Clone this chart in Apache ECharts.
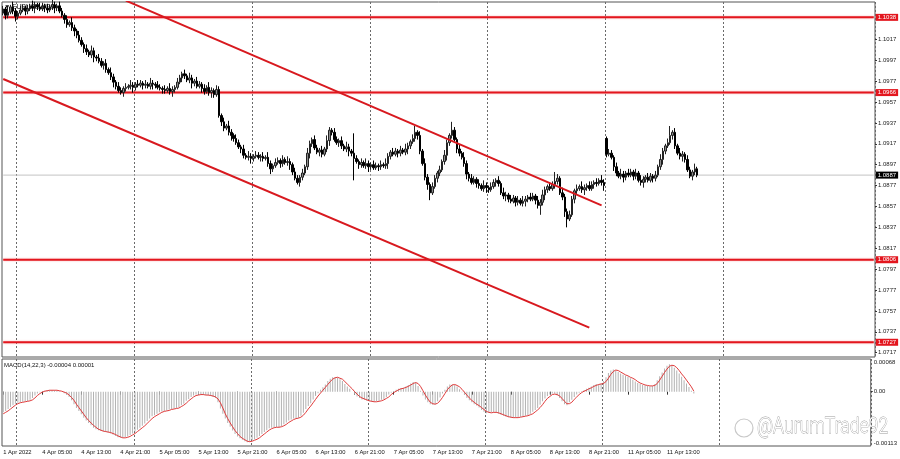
<!DOCTYPE html>
<html><head><meta charset="utf-8">
<script src="https://cdn.jsdelivr.net/npm/echarts@6/dist/echarts.min.js"></script>
<style>html,body{margin:0;padding:0;background:#fff}#c{width:900px;height:459px}</style>
</head><body><div id="c"></div>
<script>
// ---- Price data (EURUSD, 30-minute bars) ----
const opens = [
1.1042,1.1046,1.1040,1.1043,1.1048,1.1044,1.1039,1.1042,1.1045,1.1047,
1.1044,1.1046,1.1049,1.1047,1.1050,1.1048,1.1046,1.1049,1.1047,1.1045,
1.1048,1.1050,1.1047,1.1049,1.1044,1.1040,1.1036,1.1031,1.1033,1.1028,
1.1025,1.1021,1.1016,1.1012,1.1008,1.1005,1.1002,1.1006,1.1000,1.0999,
1.0996,1.0992,1.0994,1.0988,1.0985,1.0981,1.0976,1.0972,1.0968,1.0966,
1.0970,1.0971,1.0972,1.0973,1.0971,1.0974,1.0973,1.0975,1.0973,1.0974,
1.0972,1.0975,1.0974,1.0973,1.0971,1.0970,1.0969,1.0968,1.0970,1.0967,
1.0969,1.0971,1.0976,1.0980,1.0984,1.0982,1.0978,1.0980,1.0975,1.0977,
1.0972,1.0974,1.0970,1.0967,1.0971,1.0966,1.0968,1.0964,1.0969,1.0944,
1.0938,1.0932,1.0934,1.0928,1.0925,1.0922,1.0918,1.0914,1.0912,1.0906,
1.0904,1.0905,1.0903,1.0905,1.0906,1.0904,1.0905,1.0903,1.0904,1.0898,
1.0893,1.0896,1.0899,1.0901,1.0898,1.0902,1.0899,1.0900,1.0897,1.0890,
1.0884,1.0880,1.0885,1.0889,1.0895,1.0908,1.0917,1.0921,1.0913,1.0909,
1.0911,1.0907,1.0912,1.0920,1.0930,1.0928,1.0921,1.0918,1.0920,1.0915,
1.0912,1.0914,1.0910,1.0908,1.0903,1.0900,1.0897,1.0899,1.0896,1.0898,
1.0895,1.0897,1.0894,1.0896,1.0895,1.0897,1.0896,1.0898,1.0905,1.0909,
1.0907,1.0910,1.0908,1.0911,1.0909,1.0912,1.0915,1.0919,1.0922,1.0928,
1.0925,1.0910,1.0898,1.0885,1.0878,1.0870,1.0876,1.0884,1.0889,1.0892,
1.0900,1.0906,1.0918,1.0925,1.0930,1.0921,1.0912,1.0908,1.0904,1.0898,
1.0888,1.0884,1.0880,1.0883,1.0879,1.0877,1.0874,1.0877,1.0875,1.0873,
1.0876,1.0880,1.0882,1.0879,1.0870,1.0867,1.0868,1.0864,1.0862,1.0865,
1.0861,1.0863,1.0860,1.0862,1.0864,1.0866,1.0864,1.0867,1.0863,1.0858,
1.0861,1.0868,1.0873,1.0876,1.0874,1.0878,1.0881,1.0884,1.0870,1.0866,
1.0852,1.0845,1.0849,1.0864,1.0872,1.0874,1.0876,1.0873,1.0875,1.0877,
1.0874,1.0878,1.0880,1.0879,1.0882,1.0880,1.0922,1.0907,1.0908,1.0904,
1.0895,1.0889,1.0886,1.0888,1.0885,1.0889,1.0887,1.0890,1.0886,1.0889,
1.0882,1.0880,1.0883,1.0885,1.0882,1.0886,1.0884,1.0887,1.0895,1.0902,
1.0910,1.0915,1.0918,1.0925,1.0928,1.0915,1.0908,1.0905,1.0907,1.0902,
1.0892,1.0886,1.0890,1.0893];
const closes = [
1.1046,1.1040,1.1043,1.1048,1.1044,1.1039,1.1042,1.1045,1.1047,1.1044,
1.1046,1.1049,1.1047,1.1050,1.1048,1.1046,1.1049,1.1047,1.1045,1.1048,
1.1050,1.1047,1.1049,1.1044,1.1040,1.1036,1.1031,1.1033,1.1028,1.1025,
1.1021,1.1016,1.1012,1.1008,1.1005,1.1002,1.1006,1.1000,1.0999,1.0996,
1.0992,1.0994,1.0988,1.0985,1.0981,1.0976,1.0972,1.0968,1.0966,1.0970,
1.0971,1.0972,1.0973,1.0971,1.0974,1.0973,1.0975,1.0973,1.0974,1.0972,
1.0975,1.0974,1.0973,1.0971,1.0970,1.0969,1.0968,1.0970,1.0967,1.0969,
1.0971,1.0976,1.0980,1.0984,1.0982,1.0978,1.0980,1.0975,1.0977,1.0972,
1.0974,1.0970,1.0967,1.0971,1.0966,1.0968,1.0964,1.0969,1.0944,1.0938,
1.0932,1.0934,1.0928,1.0925,1.0922,1.0918,1.0914,1.0912,1.0906,1.0904,
1.0905,1.0903,1.0905,1.0906,1.0904,1.0905,1.0903,1.0904,1.0898,1.0893,
1.0896,1.0899,1.0901,1.0898,1.0902,1.0899,1.0900,1.0897,1.0890,1.0884,
1.0880,1.0885,1.0889,1.0895,1.0908,1.0917,1.0921,1.0913,1.0909,1.0911,
1.0907,1.0912,1.0920,1.0930,1.0928,1.0921,1.0918,1.0920,1.0915,1.0912,
1.0914,1.0910,1.0908,1.0903,1.0900,1.0897,1.0899,1.0896,1.0898,1.0895,
1.0897,1.0894,1.0896,1.0895,1.0897,1.0896,1.0898,1.0905,1.0909,1.0907,
1.0910,1.0908,1.0911,1.0909,1.0912,1.0915,1.0919,1.0922,1.0928,1.0925,
1.0910,1.0898,1.0885,1.0878,1.0870,1.0876,1.0884,1.0889,1.0892,1.0900,
1.0906,1.0918,1.0925,1.0930,1.0921,1.0912,1.0908,1.0904,1.0898,1.0888,
1.0884,1.0880,1.0883,1.0879,1.0877,1.0874,1.0877,1.0875,1.0873,1.0876,
1.0880,1.0882,1.0879,1.0870,1.0867,1.0868,1.0864,1.0862,1.0865,1.0861,
1.0863,1.0860,1.0862,1.0864,1.0866,1.0864,1.0867,1.0863,1.0858,1.0861,
1.0868,1.0873,1.0876,1.0874,1.0878,1.0881,1.0884,1.0870,1.0866,1.0852,
1.0845,1.0849,1.0864,1.0872,1.0874,1.0876,1.0873,1.0875,1.0877,1.0874,
1.0878,1.0880,1.0879,1.0882,1.0880,1.0877,1.0907,1.0908,1.0904,1.0895,
1.0889,1.0886,1.0888,1.0885,1.0889,1.0887,1.0890,1.0886,1.0889,1.0882,
1.0880,1.0883,1.0885,1.0882,1.0886,1.0884,1.0887,1.0895,1.0902,1.0910,
1.0915,1.0918,1.0925,1.0928,1.0915,1.0908,1.0905,1.0907,1.0902,1.0892,
1.0886,1.0890,1.0893,1.0887];
const lows = [
1.1040,1.1036,1.1037,1.1041,1.1041,1.1034,1.1036,1.1040,1.1043,1.1040,
1.1041,1.1044,1.1044,1.1042,1.1045,1.1044,1.1044,1.1043,1.1042,1.1043,
1.1045,1.1042,1.1044,1.1042,1.1038,1.1032,1.1028,1.1029,1.1025,1.1020,
1.1018,1.1014,1.1010,1.1004,1.1002,1.1000,1.0999,1.0995,1.0996,1.0994,
1.0990,1.0988,1.0985,1.0983,1.0978,1.0971,1.0969,1.0966,1.0964,1.0962,
1.0967,1.0969,1.0969,1.0966,1.0968,1.0971,1.0971,1.0969,1.0970,1.0970,
1.0969,1.0969,1.0970,1.0969,1.0968,1.0965,1.0965,1.0966,1.0964,1.0962,
1.0966,1.0969,1.0974,1.0976,1.0979,1.0976,1.0975,1.0970,1.0972,1.0970,
1.0970,1.0966,1.0964,1.0965,1.0963,1.0961,1.0961,1.0962,1.0942,1.0934,
1.0929,1.0930,1.0925,1.0920,1.0919,1.0916,1.0912,1.0908,1.0903,1.0902,
1.0901,1.0898,1.0900,1.0903,1.0902,1.0900,1.0900,1.0901,1.0895,1.0888,
1.0890,1.0894,1.0897,1.0894,1.0895,1.0897,1.0896,1.0892,1.0887,1.0882,
1.0878,1.0876,1.0882,1.0887,1.0892,1.0903,1.0914,1.0911,1.0907,1.0905,
1.0904,1.0905,1.0909,1.0915,1.0925,1.0919,1.0916,1.0914,1.0912,1.0910,
1.0909,1.0905,1.0905,1.0882,1.0898,1.0893,1.0894,1.0894,1.0893,1.0890,
1.0892,1.0892,1.0892,1.0891,1.0892,1.0894,1.0893,1.0893,1.0902,1.0905,
1.0905,1.0904,1.0905,1.0907,1.0906,1.0907,1.0912,1.0917,1.0919,1.0921,
1.0907,1.0896,1.0882,1.0873,1.0863,1.0868,1.0874,1.0880,1.0886,1.0890,
1.0897,1.0901,1.0915,1.0922,1.0919,1.0908,1.0905,1.0902,1.0895,1.0883,
1.0881,1.0878,1.0878,1.0875,1.0874,1.0872,1.0871,1.0870,1.0870,1.0871,
1.0874,1.0876,1.0876,1.0868,1.0864,1.0862,1.0861,1.0860,1.0860,1.0857,
1.0858,1.0858,1.0857,1.0857,1.0861,1.0862,1.0862,1.0859,1.0855,1.0849,
1.0858,1.0863,1.0870,1.0872,1.0872,1.0874,1.0878,1.0868,1.0863,1.0847,
1.0837,1.0843,1.0847,1.0860,1.0869,1.0872,1.0870,1.0868,1.0872,1.0872,
1.0872,1.0874,1.0876,1.0877,1.0877,1.0872,1.0904,1.0905,1.0902,1.0891,
1.0886,1.0884,1.0883,1.0880,1.0882,1.0885,1.0885,1.0882,1.0883,1.0880,
1.0877,1.0875,1.0880,1.0880,1.0880,1.0880,1.0881,1.0885,1.0892,1.0897,
1.0907,1.0913,1.0916,1.0921,1.0912,1.0906,1.0902,1.0900,1.0899,1.0890,
1.0884,1.0882,1.0887,1.0885];
const highs = [
1.1049,1.1048,1.1047,1.1050,1.1053,1.1047,1.1044,1.1049,1.1050,1.1049,
1.1050,1.1051,1.1054,1.1053,1.1052,1.1052,1.1052,1.1051,1.1051,1.1050,
1.1055,1.1053,1.1051,1.1053,1.1047,1.1042,1.1040,1.1035,1.1038,1.1031,
1.1027,1.1025,1.1019,1.1014,1.1012,1.1007,1.1011,1.1009,1.1002,1.1003,
1.0999,1.0996,1.0998,1.0990,1.0990,1.0984,1.0978,1.0976,1.0971,1.0972,
1.0975,1.0974,1.0978,1.0976,1.0976,1.0978,1.0978,1.0977,1.0978,1.0976,
1.0980,1.0978,1.0976,1.0977,1.0974,1.0972,1.0973,1.0972,1.0975,1.0972,
1.0973,1.0980,1.0983,1.0986,1.0988,1.0984,1.0985,1.0983,1.0979,1.0981,
1.0977,1.0976,1.0974,1.0973,1.0976,1.0971,1.0970,1.0973,1.0972,1.0946,
1.0942,1.0936,1.0939,1.0931,1.0927,1.0926,1.0921,1.0916,1.0916,1.0908,
1.0910,1.0908,1.0907,1.0910,1.0909,1.0907,1.0909,1.0906,1.0909,1.0901,
1.0898,1.0903,1.0904,1.0903,1.0906,1.0904,1.0905,1.0903,1.0899,1.0894,
1.0887,1.0887,1.0893,1.0897,1.0913,1.0920,1.0923,1.0925,1.0916,1.0913,
1.0915,1.0914,1.0925,1.0933,1.0932,1.0932,1.0924,1.0922,1.0924,1.0917,
1.0919,1.0917,1.0912,1.0927,1.0906,1.0902,1.0903,1.0901,1.0903,1.0901,
1.0899,1.0901,1.0899,1.0898,1.0901,1.0899,1.0903,1.0908,1.0911,1.0913,
1.0913,1.0912,1.0915,1.0913,1.0917,1.0918,1.0921,1.0926,1.0934,1.0930,
1.0929,1.0912,1.0903,1.0888,1.0880,1.0880,1.0887,1.0891,1.0896,1.0902,
1.0911,1.0921,1.0927,1.0938,1.0933,1.0923,1.0916,1.0910,1.0909,1.0901,
1.0890,1.0888,1.0886,1.0885,1.0883,1.0879,1.0882,1.0880,1.0877,1.0880,
1.0883,1.0884,1.0886,1.0881,1.0875,1.0871,1.0870,1.0868,1.0868,1.0867,
1.0867,1.0865,1.0867,1.0867,1.0868,1.0870,1.0870,1.0869,1.0867,1.0864,
1.0873,1.0876,1.0878,1.0880,1.0881,1.0890,1.0888,1.0886,1.0875,1.0869,
1.0855,1.0853,1.0867,1.0874,1.0878,1.0878,1.0881,1.0878,1.0879,1.0881,
1.0881,1.0882,1.0884,1.0884,1.0887,1.0883,1.0924,1.0912,1.0911,1.0906,
1.0899,1.0891,1.0893,1.0891,1.0891,1.0893,1.0893,1.0892,1.0893,1.0891,
1.0887,1.0886,1.0887,1.0889,1.0889,1.0888,1.0891,1.0897,1.0907,1.0913,
1.0917,1.0922,1.0934,1.0930,1.0932,1.0917,1.0913,1.0910,1.0909,1.0906,
1.0895,1.0892,1.0898,1.0895];

// ---- MACD(14,22,3), values in units of 0.00001 ----
const macdMain = [
-43,-40,-36,-32,-28,-25,-23,-22,-21,-20,-20,-17,-13,-8,-4,-1,1,2,3,3,
3,3,2,1,0,-3,-7,-11,-18,-26,-34,-40,-47,-54,-60,-65,-70,-75,-78,-80,
-82,-83,-84,-85,-87,-89,-92,-95,-96,-96,-95,-93,-90,-87,-83,-79,-75,-71,-66,-61,
-56,-51,-49,-46,-43,-41,-40,-39,-37,-36,-35,-34,-32,-28,-25,-19,-15,-11,-8,-6,
-6,-6,-7,-7,-8,-9,-11,-13,-22,-35,-46,-56,-65,-73,-81,-88,-93,-97,-100,-103,
-105,-104,-101,-99,-96,-92,-88,-84,-80,-76,-75,-74,-74,-74,-72,-68,-64,-60,-58,-56,
-55,-54,-50,-44,-36,-30,-24,-16,-9,-3,4,9,15,22,27,30,30,29,26,22,
16,11,6,0,-6,-10,-13,-16,-17,-19,-20,-21,-21,-20,-19,-17,-15,-11,-6,-2,
1,4,6,7,8,11,14,17,20,19,12,2,-8,-16,-22,-26,-27,-26,-20,-12,
-4,4,11,15,15,14,11,5,-1,-7,-13,-18,-22,-26,-29,-33,-38,-42,-45,-44,
-43,-43,-44,-46,-48,-50,-52,-53,-54,-54,-54,-53,-52,-51,-50,-49,-46,-42,-38,-34,
-27,-20,-14,-9,-6,-4,-4,-8,-13,-20,-26,-28,-22,-17,-11,-6,-2,1,3,6,
8,11,14,16,15,17,22,30,39,44,46,44,41,38,35,33,31,28,25,21,
18,16,14,13,12,11,12,16,24,32,40,48,54,57,55,50,44,38,31,24,
17,10,2,-4];
const macdSignal = [
-46,-43,-40,-36,-32,-28,-25,-23,-22,-21,-20,-19,-17,-13,-8,-4,-1,1,2,3,
3,3,3,2,1,-1,-3,-7,-12,-18,-26,-33,-40,-47,-54,-60,-65,-70,-74,-78,
-80,-82,-83,-84,-85,-87,-89,-92,-94,-96,-96,-95,-93,-90,-87,-83,-79,-75,-71,-66,
-61,-56,-52,-49,-46,-43,-41,-40,-39,-37,-36,-35,-34,-31,-28,-24,-19,-15,-11,-8,
-7,-6,-6,-7,-7,-8,-9,-11,-15,-23,-34,-46,-56,-65,-73,-81,-87,-93,-97,-100,
-103,-104,-103,-101,-99,-96,-92,-88,-84,-80,-77,-75,-74,-74,-73,-71,-68,-64,-61,-58,
-56,-55,-53,-49,-43,-36,-30,-23,-16,-9,-3,3,9,15,21,26,29,30,28,26,
21,16,11,6,0,-5,-10,-13,-15,-17,-19,-20,-21,-21,-20,-19,-17,-14,-11,-6,
-2,1,4,6,7,9,11,14,17,19,17,11,2,-7,-15,-22,-25,-26,-24,-19,
-12,-4,4,10,14,15,13,10,5,-1,-7,-13,-18,-22,-26,-29,-33,-37,-41,-43,
-44,-43,-43,-44,-46,-48,-50,-52,-53,-54,-54,-54,-53,-52,-51,-50,-48,-46,-42,-38,
-33,-27,-20,-14,-10,-6,-5,-6,-9,-14,-20,-25,-25,-22,-16,-11,-6,-2,1,3,
6,8,11,13,15,16,17,21,28,36,42,45,44,41,38,35,33,30,28,25,
21,18,16,14,13,12,12,13,17,24,32,40,47,53,55,54,50,44,37,31,
24,17,10,1];

// ---- levels, lines, ticks ----
const levelPrices = [1.1038, 1.0966, 1.0806, 1.0727];
const bidPrice = 1.0887;
const upperChannel = [[50, 1.1054], [244, 1.0858]];
const lowerChannel = [[0, 1.0979], [239, 1.0741]];
const priceTicks = [1.1017,1.0997,1.0977,1.0957,1.0937,1.0917,1.0897,1.0877,1.0857,1.0837,1.0817,1.0797,1.0777,1.0757,1.0737,1.0717];
const priceMin = 1.07129, priceMax = 1.10527;
const macdMax = 0.00068, macdMin = -0.00113;
const timeTickIdx = [0,16,32,48,64,80,96,112,128,144,160,176,192,208,224,240,256,272];
const timeTickText = ['1 Apr 2022','4 Apr 05:00','4 Apr 13:00','4 Apr 21:00','5 Apr 05:00','5 Apr 13:00','5 Apr 21:00','6 Apr 05:00','6 Apr 13:00','6 Apr 21:00','7 Apr 05:00','7 Apr 13:00','7 Apr 21:00','8 Apr 05:00','8 Apr 13:00','8 Apr 21:00','11 Apr 05:00','11 Apr 13:00'];
const dayStartIdx = [6,54,102,150,198,246,294];
const slotCount = 356;

const slots = [];
for (let i = 0; i < slotCount; i++) slots.push(String(i));
const candleData = closes.map((c, i) => [opens[i], c, lows[i], highs[i]]);
const FONT = 'Liberation Sans';
const redLine = '#e3161e';

function levelSeries(price, lineColor, boxColor, width, glow) {
  return {type: 'line', xAxisIndex: 0, yAxisIndex: 0, data: [[0, price], [slotCount - 1, price]],
    symbol: 'none', silent: true, clip: false, z: 3,
    lineStyle: {color: lineColor, width: width, shadowBlur: glow ? 2 : 0, shadowColor: 'rgba(240,120,120,0.6)'},
    endLabel: {show: true, distance: 2, formatter: () => price.toFixed(4), color: '#fff',
      backgroundColor: boxColor, fontSize: 6, padding: [1, 2, 0, 2], fontFamily: FONT}};
}

const chart = echarts.init(document.getElementById('c'), null, {renderer: 'canvas'});
const xBase = {
  type: 'category', data: slots, boundaryGap: true,
  axisLine: {show: false},
  splitLine: {show: true, interval: (i) => dayStartIdx.includes(i), lineStyle: {color: '#6a6a6a', type: [2, 2], width: 1}}
};
const series = [
  levelSeries(bidPrice, '#c4c4c4', '#000', 1, false),
  {type: 'candlestick', xAxisIndex: 0, yAxisIndex: 0, data: candleData, barWidth: 2, clip: true, z: 4,
    itemStyle: {color: '#8c8c8c', color0: '#000', borderColor: '#222', borderColor0: '#000', borderWidth: 1}},
  {type: 'line', xAxisIndex: 0, yAxisIndex: 0, data: upperChannel, symbol: 'none', silent: true, z: 5,
    lineStyle: {color: '#d8191f', width: 2}},
  {type: 'line', xAxisIndex: 0, yAxisIndex: 0, data: lowerChannel, symbol: 'none', silent: true, z: 5,
    lineStyle: {color: '#d8191f', width: 2}},
  {type: 'bar', xAxisIndex: 1, yAxisIndex: 1, data: macdMain.map(v => v / 100000), barWidth: 1,
    itemStyle: {color: '#b2b2b2'}, silent: true},
  {type: 'line', xAxisIndex: 1, yAxisIndex: 1, data: macdSignal.map(v => v / 100000), symbol: 'none', silent: true,
    lineStyle: {color: '#e03a3a', width: 1}}
].concat(levelPrices.map(p => levelSeries(p, redLine, redLine, 2, true)));

chart.setOption({
  animation: false,
  backgroundColor: '#ffffff',
  textStyle: {fontFamily: FONT},
  title: [
    {text: '\u25BC EURUSD,M30', left: 4, top: 4, padding: 0, textStyle: {fontSize: 6.5, fontWeight: 'normal', color: '#111', fontFamily: FONT}},
    {text: 'MACD(14,22,3) -0.00004 0.00001', left: 4, top: 362, padding: 0, textStyle: {fontSize: 6, fontWeight: 'normal', color: '#111', fontFamily: FONT}}
  ],
  grid: [
    {left: 2, right: 25, top: 2, height: 355, show: true, borderColor: '#555', borderWidth: 1, backgroundColor: '#fff'},
    {left: 2, right: 25, top: 359, height: 87, show: true, borderColor: '#555', borderWidth: 1, backgroundColor: '#fff'}
  ],
  xAxis: [
    Object.assign({}, xBase, {gridIndex: 0, axisTick: {show: false}, axisLabel: {show: false}}),
    Object.assign({}, xBase, {gridIndex: 1,
      axisTick: {show: true, interval: (i) => timeTickIdx.includes(i), alignWithLabel: true, length: 3, lineStyle: {color: '#333'}},
      axisLabel: {show: true, interval: (i) => timeTickIdx.includes(i), align: 'left', margin: 3,
        fontSize: 5.8, color: '#111', fontFamily: FONT,
        formatter: (v) => timeTickText[timeTickIdx.indexOf(Number(v))] || ''}})
  ],
  yAxis: [
    {type: 'value', gridIndex: 0, position: 'right', min: priceMin, max: priceMax,
      splitLine: {show: false}, axisLine: {show: false},
      axisTick: {show: true, length: 2, customValues: priceTicks, lineStyle: {color: '#333'}},
      axisLabel: {show: true, customValues: priceTicks, margin: 3, fontSize: 6, color: '#222', fontFamily: FONT, formatter: (v) => v.toFixed(4)}},
    {type: 'value', gridIndex: 1, position: 'right', min: macdMin, max: macdMax,
      splitLine: {show: false}, axisLine: {show: false},
      axisTick: {show: true, length: 2, customValues: [0], lineStyle: {color: '#333'}},
      axisLabel: {show: true, customValues: [0], margin: 3, fontSize: 6, color: '#222', fontFamily: FONT, formatter: () => '0.00'}},
    {type: 'value', gridIndex: 1, position: 'right', min: macdMin, max: macdMax,
      splitLine: {show: false}, axisLine: {show: false}, axisTick: {show: false},
      axisLabel: {show: true, customValues: [macdMax], margin: 3, fontSize: 6, color: '#222', verticalAlign: 'top', fontFamily: FONT, formatter: (v) => v.toFixed(5)}},
    {type: 'value', gridIndex: 1, position: 'right', min: macdMin, max: macdMax,
      splitLine: {show: false}, axisLine: {show: false}, axisTick: {show: false},
      axisLabel: {show: true, customValues: [macdMin], margin: 3, fontSize: 6, color: '#222', verticalAlign: 'bottom', fontFamily: FONT, formatter: (v) => v.toFixed(5)}}
  ],
  series: series,
  graphic: [
    {type: 'circle', shape: {cx: 744, cy: 428, r: 9}, style: {fill: 'none', stroke: '#c8c8c8', lineWidth: 1.2}, silent: true},
    {type: 'text', x: 757, y: 416, scaleX: 0.8, style: {text: '@AurumTrade92', font: '300 22px Roboto', fill: '#ffffff', stroke: '#9a9a9a', lineWidth: 0.8}, silent: true}
  ]
});
</script></body></html>
